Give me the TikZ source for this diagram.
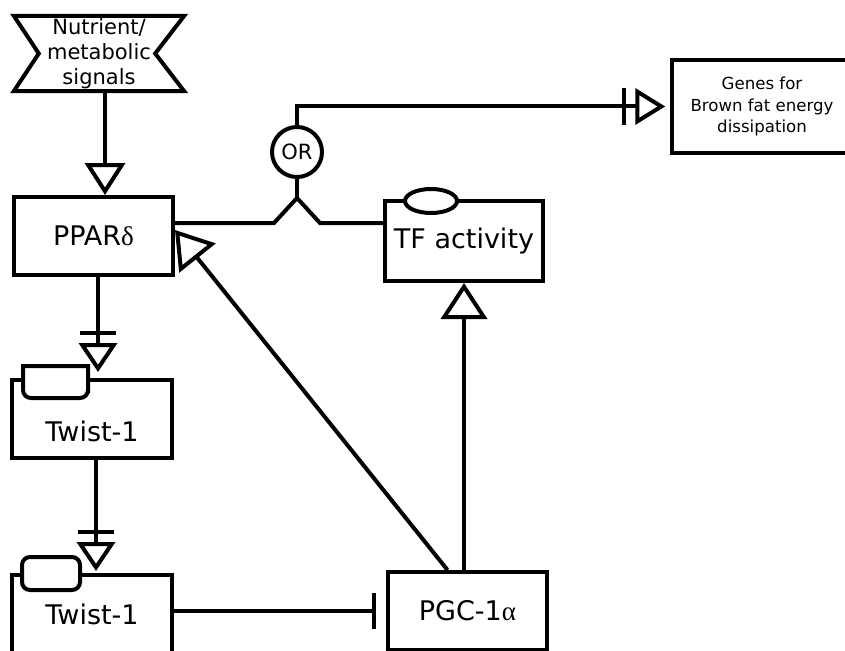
\documentclass[tikz,border=0pt]{standalone}
\usepackage{fontspec}
\setmainfont{DejaVu Sans}
\newfontfamily\grk{Liberation Serif}
\usetikzlibrary{arrows.meta}
\begin{document}
\begin{tikzpicture}[x=1pt,y=-1pt,
  box/.style={draw,line width=4pt,rectangle,inner sep=0pt,align=center,fill=white},
  conn/.style={line width=4pt},
  act/.style={-{Triangle[open,length=32pt,width=40pt]}},
  bigact/.style={-{Triangle[open,length=36pt,width=46pt]}},
  nec/.style={-{Bar[width=36pt,sep=8pt]Triangle[open,length=29pt,width=38pt]}},
  inh/.style={-{Bar[width=36pt]}},
  bigtxt/.style={font=\fontsize{27}{32}\selectfont},
  midtxt/.style={font=\fontsize{21}{25}\selectfont},
  smalltxt/.style={font=\fontsize{16.6}{21.5}\selectfont},
]
\useasboundingbox (0,0) rectangle (845,650);
\clip (0,0) rectangle (845,650);

% nodes
\node[inner sep=0pt,minimum width=170,minimum height=75,align=center,midtxt] (nut) at (99,53.5) {Nutrient/\\metabolic\\signals};
\draw[line width=4pt] (nut.north west) -- (nut.north east) -- ([xshift=-29pt]nut.east) -- (nut.south east) -- (nut.south west) -- ([xshift=25pt]nut.west) -- cycle;

\node[box,bigtxt,minimum width=159,minimum height=78] (PPAR) at (93.5,236) {PPAR{\grk δ}};
\node[box,bigtxt,minimum width=158,minimum height=80] (TF) at (464,241) {TF activity};
\draw[line width=4pt,fill=white] (431,201) ellipse [x radius=26,y radius=12];
\node[box,smalltxt,line width=3.5pt,minimum width=180,minimum height=93] (Genes) at (762,106.5) {Genes for\\Brown fat energy\\dissipation};
\node[circle,draw,line width=4pt,fill=white,minimum size=50,inner sep=0pt,font=\fontsize{21}{24}\selectfont] (OR) at (297,152) {OR};

\node[box,minimum width=160,minimum height=78] (tw1) at (92,419) {};
\node[bigtxt] (tw1t) at ([yshift=-12pt]tw1.center) {Twist-1};
\draw[line width=4pt,fill=white] (23,366) -- (23,385) [rounded corners=8pt] -- (23,398) -- (88,398) -- (88,385) [sharp corners] -- (88,366) -- cycle;

\node[box,bigtxt,minimum width=160,minimum height=78] (tw2) at (92,614) {Twist-1};
\draw[line width=4pt,fill=white,rounded corners=8pt] (22,557) rectangle (80,590);

\node[box,bigtxt,minimum width=159,minimum height=78] (PGC) at (467.5,611) {PGC-1{\grk α}};

% connectors
\draw[conn,act] ([xshift=6pt]nut.south) -- ([xshift=11.5pt]PPAR.north);
\draw[conn,nec,shorten >=6pt] ([xshift=4.5pt]PPAR.south) -- ([xshift=6pt]tw1.north);
\draw[conn,nec,shorten >=2pt] ([xshift=4pt]tw1.south) -- ([xshift=4pt]tw2.north);
\draw[conn,inh,shorten >=10pt] (tw2.east |- PGC.west) -- (PGC.west);
\draw[conn,bigact] (TF.south |- PGC.north) -- (TF.south);
\draw[conn,bigact] ([xshift=-20pt]PGC.north) -- ([yshift=6pt]PPAR.east);

\coordinate (fork) at (297,198);
\coordinate (forkL) at (274,223);
\coordinate (forkR) at (320,223);
\draw[conn] (PPAR.east |- forkL) -- (forkL) -- (fork) -- (forkR) -- (TF.west |- forkR);
\draw[conn] (fork) -- (OR.south);
\draw[conn,-{Bar[width=36pt,sep=9pt]Triangle[open,length=30pt,width=36pt]},shorten >=5pt] (OR.north) |- (Genes.west);
\end{tikzpicture}
\end{document}
